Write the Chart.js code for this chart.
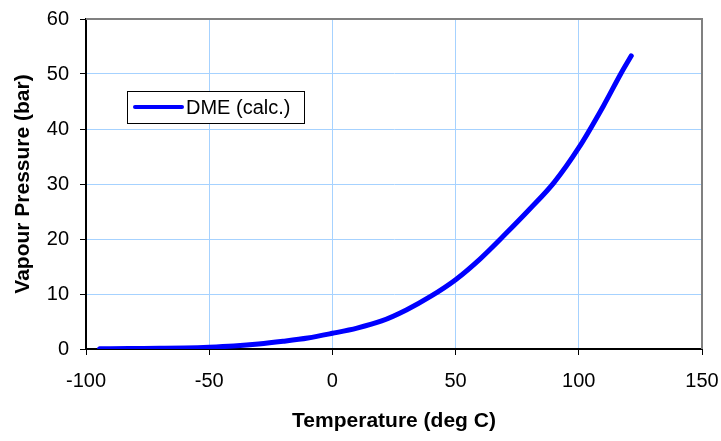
<!DOCTYPE html>
<html>
<head>
<meta charset="utf-8">
<script src="https://cdn.jsdelivr.net/npm/chart.js@4.4.0/dist/chart.umd.min.js"></script>
<style>
  body { margin: 0; background: #fff; }
</style>
</head>
<body>
<canvas id="vpChart" width="721" height="441"></canvas>
<script>
const seriesLabel = 'DME (calc.)';
const temps = [-94.5, -90, -80, -70, -60, -50, -40, -30, -20, -10, 0, 10, 20, 30, 40, 50, 60, 70, 80, 90, 100, 110, 117, 121.3];
const pressures = [0.04, 0.06, 0.1, 0.14, 0.2, 0.33, 0.55, 0.9, 1.4, 2.0, 2.85, 3.8, 5.1, 7.1, 9.6, 12.6, 16.4, 20.8, 25.4, 30.3, 36.6, 44.2, 50.0, 53.3];
const xTicks = [-100, -50, 0, 50, 100, 150];
const yTicks = [0, 10, 20, 30, 40, 50, 60];
const xTitle = 'Temperature (deg C)';
const yTitle = 'Vapour Pressure (bar)';

const points = temps.map((t, i) => ({ x: t, y: pressures[i] }));
const fontFamily = '"Liberation Sans", Arial, sans-serif';

// gray frame on top and right like Excel plot area
const plotFrame = {
  id: 'plotFrame',
  beforeDatasetsDraw(chart) {
    const { ctx, chartArea: a } = chart;
    ctx.save();
    ctx.strokeStyle = '#808080';
    ctx.lineWidth = 2;
    ctx.beginPath();
    ctx.moveTo(a.left, a.top);
    ctx.lineTo(a.right, a.top);
    ctx.lineTo(a.right, a.bottom);
    ctx.stroke();
    ctx.restore();
  }
};

// legend box inside the plot
const boxLegend = {
  id: 'boxLegend',
  afterDraw(chart) {
    const { ctx, chartArea: a } = chart;
    const ds = chart.data.datasets[0];
    const x = a.left + 41, y = a.top + 72, w = 177, h = 32;
    ctx.save();
    ctx.fillStyle = '#fff';
    ctx.fillRect(x, y, w, h);
    ctx.strokeStyle = '#000';
    ctx.lineWidth = 1;
    ctx.strokeRect(x + 0.5, y + 0.5, w, h);
    ctx.strokeStyle = ds.borderColor;
    ctx.lineWidth = 4;
    ctx.lineCap = 'round';
    ctx.beginPath();
    ctx.moveTo(x + 8, y + h / 2);
    ctx.lineTo(x + 55, y + h / 2);
    ctx.stroke();
    ctx.fillStyle = '#000';
    ctx.font = '20px ' + fontFamily;
    ctx.textBaseline = 'middle';
    ctx.fillText(ds.label, x + 59, y + h / 2 + 1);
    ctx.restore();
  }
};

new Chart(document.getElementById('vpChart'), {
  type: 'scatter',
  data: {
    datasets: [{
      label: seriesLabel,
      data: points,
      showLine: true,
      borderColor: '#0000FF',
      borderWidth: 5,
      pointRadius: 0,
      cubicInterpolationMode: 'monotone',
      borderCapStyle: 'round',
      borderJoinStyle: 'round'
    }]
  },
  options: {
    responsive: false,
    animation: false,
    layout: { padding: { top: 19, right: 19, left: 0, bottom: 0 } },
    plugins: {
      legend: { display: false },
      tooltip: { enabled: false }
    },
    scales: {
      x: {
        type: 'linear',
        min: xTicks[0],
        max: xTicks[xTicks.length - 1],
        afterFit(scale) { scale.height = 92; scale.paddingLeft = 0; scale.paddingRight = 0; },
        afterBuildTicks(scale) { scale.ticks = xTicks.map(v => ({ value: v })); },
        grid: { color: '#A6D2FF', lineWidth: 1, tickLength: 6, tickColor: '#000', tickWidth: 1 },
        border: { color: '#000', width: 2 },
        ticks: { color: '#000', padding: 14, maxRotation: 0, font: { family: fontFamily, size: 20 } },
        title: { display: true, text: xTitle, color: '#000', padding: { bottom: 7 }, font: { family: fontFamily, size: 21, weight: 'bold' } }
      },
      y: {
        type: 'linear',
        min: yTicks[0],
        max: yTicks[yTicks.length - 1],
        afterFit(scale) { scale.width = 86; scale.paddingTop = 0; scale.paddingBottom = 0; },
        afterBuildTicks(scale) { scale.ticks = yTicks.map(v => ({ value: v })); },
        grid: { color: '#A6D2FF', lineWidth: 1, tickLength: 6, tickColor: '#000', tickWidth: 1 },
        border: { color: '#000', width: 2 },
        ticks: { color: '#000', padding: 11, font: { family: fontFamily, size: 20 } },
        title: { display: true, text: yTitle, color: '#000', padding: { top: 11 }, font: { family: fontFamily, size: 21, weight: 'bold' } }
      }
    }
  },
  plugins: [plotFrame, boxLegend]
});
</script>
</body>
</html>
